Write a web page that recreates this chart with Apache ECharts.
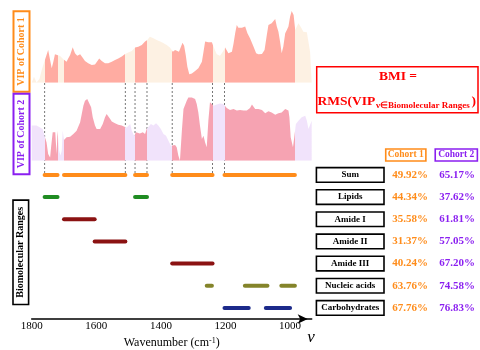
<!DOCTYPE html>
<html>
<head>
<meta charset="utf-8">
<script src="https://cdn.jsdelivr.net/npm/echarts@6.0.0/dist/echarts.min.js"></script>
<style>
html, body { margin: 0; padding: 0; background: #fff; }
#chart { width: 480px; height: 350px; }
</style>
</head>
<body>
<div id="chart"></div>
<script>
// VIP spectra (wavenumber in cm-1, VIP)
var wn1 = [1800,1793,1785,1776,1769,1761,1754,1749,1743,1738,1733,1728,1723,1712,1702,1692,1687,1681,1673,1666,1659,1650,1642,1635,1625,1614,1604,1591,1583,1573,1563,1552,1542,1532,1521,1512,1501,1490,1480,1470,1459,1449,1442,1434,1423,1413,1397,1382,1372,1363,1356,1351,1344,1333,1328,1323,1318,1312,1304,1294,1284,1273,1268,1263,1253,1242,1237,1227,1217,1208,1201,1196,1191,1186,1180,1175,1170,1165,1160,1155,1149,1139,1132,1124,1113,1105,1098,1087,1079,1072,1067,1062,1057,1052,1046,1041,1036,1031,1026,1021,1015,1010,1005,1000,995,989,984,979,974,969,964,959,948,943,938,933];
var vip1 = [0,0.2,0.01,0.12,0.42,0.70,0.92,1.09,0.76,0.48,0.70,0.95,0.92,0.89,0.78,0.70,0.81,0.92,1.18,0.98,0.90,0.95,0.83,0.72,0.65,0.59,0.61,0.81,0.72,0.65,0.65,0.70,0.76,0.81,0.87,0.95,1.01,1.06,1.17,1.20,1.26,1.37,1.42,1.53,1.48,1.42,1.35,1.26,1.17,1.03,1.09,1.12,1.03,1.33,1.23,0.92,0.53,0.28,0.31,0.39,0.48,0.70,1.03,1.37,1.35,1.35,1.20,0.95,0.90,1.03,1.17,1.18,0.98,0.92,1.03,1.31,1.65,1.92,1.83,1.79,1.83,1.87,1.65,1.48,1.20,0.98,0.95,0.96,1.09,1.59,1.92,1.90,1.98,1.98,2.12,1.87,1.70,1.37,0.98,1.20,1.65,1.76,1.87,2.20,2.39,2.26,1.76,1.87,1.98,2.03,1.81,1.70,1.68,1.65,1.03,0.98];
var wn2 = [1800,1795,1785,1774,1766,1759,1754,1749,1743,1740,1735,1731,1727,1723,1720,1715,1711,1707,1704,1700,1692,1681,1671,1661,1650,1645,1640,1635,1628,1622,1616,1611,1604,1599,1588,1580,1573,1568,1563,1557,1552,1542,1532,1521,1513,1506,1501,1495,1490,1483,1477,1473,1465,1456,1449,1444,1439,1431,1423,1415,1408,1400,1392,1384,1377,1369,1363,1356,1351,1346,1341,1335,1330,1325,1320,1315,1310,1304,1299,1294,1289,1284,1279,1273,1268,1263,1258,1253,1248,1242,1237,1227,1217,1206,1201,1196,1186,1175,1165,1160,1155,1144,1134,1124,1118,1113,1108,1098,1087,1077,1067,1057,1046,1036,1026,1015,1010,1005,1002,998,991,987,982,974,964,953,948,943,938,933];
var vip2 = [1.17,1.13,1.17,1.11,1.06,0.78,0.61,0.22,0.11,0.45,0.95,0.89,0.95,0.22,1.00,0.33,0.17,0.33,1.00,0.69,0.78,0.80,0.89,1.00,1.28,1.56,1.83,2.00,2.06,2.00,1.78,1.45,1.17,1.06,1.06,1.22,1.45,1.56,1.50,1.39,1.31,1.25,1.20,1.17,1.13,1.11,1.17,1.22,1.00,0.83,0.95,1.00,0.91,0.95,0.89,1.06,1.11,1.22,1.17,1.25,1.17,1.06,0.89,0.83,0.67,0.50,0.45,0.52,0.45,0.17,0.0,1.00,1.72,1.78,2.00,2.11,2.06,2.11,2.17,2.06,1.89,1.61,1.17,0.72,0.83,0.61,0.45,1.33,1.95,2.00,1.83,1.87,1.91,1.89,1.83,1.76,1.69,1.72,1.67,1.72,1.69,1.67,1.67,1.76,1.87,1.80,1.72,1.72,1.69,1.58,1.65,1.61,1.53,1.58,1.61,1.72,1.78,1.67,1.45,0.78,0.45,0.78,1.22,1.33,1.45,1.50,1.33,1.06,1.00,1.33];

// biomolecular ranges [from, to] (cm-1)
var rows = ['Sum', 'Lipids', 'Amide I', 'Amide II', 'Amide III', 'Nucleic acids', 'Carbohydrates'];
var lipids = [[1760, 1720], [1480, 1443]];
var amide1 = [[1700, 1605]];
var amide2 = [[1605, 1510]];
var amide3 = [[1365, 1240]];
var nucleic = [[1258, 1242], [1140, 1070], [1027, 985]];
var carbs = [[1203, 1128], [1075, 1000]];
var dashWn = [1760, 1510, 1480, 1443, 1365, 1240, 1203];

// BMI values (%)
var bmi1 = [49.92, 44.34, 35.58, 31.37, 40.24, 63.76, 67.76];
var bmi2 = [65.17, 37.62, 61.81, 57.05, 67.20, 74.58, 76.83];
var xTicks = [1800, 1600, 1400, 1200, 1000];

var serif = '"Liberation Serif", "Times New Roman", serif';
var ORANGE = '#ff8c1a';
var PURPLE = '#8a1ff0';
var rowColors = [ORANGE, '#1f8c22', '#8b1212', '#8b1212', '#8b1212', '#84842a', '#1c2a8a'];

// the Sum row is the union of all the other ranges
function union(list) {
    var s = list.map(function (r) { return [r[0], r[1]]; }).sort(function (a, b) { return b[0] - a[0]; });
    var out = [];
    s.forEach(function (r) {
        var last = out[out.length - 1];
        if (last && r[0] >= last[1]) last[1] = Math.min(last[1], r[1]);
        else out.push(r);
    });
    return out;
}
var sumRanges = union([].concat(lipids, amide1, amide2, amide3, nucleic, carbs));
var rowRanges = [sumRanges, lipids, amide1, amide2, amide3, nucleic, carbs];

var barData = [];
rowRanges.forEach(function (list, i) {
    list.forEach(function (r) { barData.push([r[0], r[1], i]); });
});

function pairs(xs, ys) {
    return xs.map(function (x, i) { return [x, ys[i]]; });
}

function pieces(color) {
    return sumRanges.map(function (r) { return { gte: r[1], lte: r[0], color: color }; });
}

var myChart = echarts.init(document.getElementById('chart'));

var gridX = { left: 31.7, right: 168.3 };

var option = {
    animation: false,
    backgroundColor: '#fff',
    grid: [
        { left: gridX.left, right: gridX.right, top: 7.7, height: 75 },
        { left: gridX.left, right: gridX.right, top: 85.7, height: 75 },
        { left: gridX.left, right: gridX.right, top: 163.8, height: 156.4 }
    ],
    xAxis: [
        { gridIndex: 0, type: 'value', min: 933, max: 1800, inverse: true, show: false },
        { gridIndex: 1, type: 'value', min: 933, max: 1800, inverse: true, show: false },
        {
            gridIndex: 2, type: 'value', min: 933, max: 1800, inverse: true,
            axisLine: { show: true, lineStyle: { color: '#000', width: 1.5 }, symbol: ['none', 'arrow'], symbolSize: [7, 10], symbolOffset: [0, -4] },
            axisTick: { show: false },
            splitLine: { show: false },
            axisLabel: { customValues: xTicks, margin: 2, color: '#000', fontFamily: serif, fontSize: 11,
                formatter: function (v) { return String(v); } },
            name: 'Wavenumber (cm{sup|-1})',
            nameLocation: 'middle',
            nameGap: 18,
            nameTextStyle: {
                color: '#000', fontFamily: serif, fontSize: 12,
                rich: { sup: { fontSize: 8, fontFamily: serif, color: '#000', verticalAlign: 'top' } }
            }
        }
    ],
    yAxis: [
        { gridIndex: 0, type: 'value', min: 0, max: 2.5, show: false },
        { gridIndex: 1, type: 'value', min: 0, max: 2.5, show: false },
        {
            gridIndex: 2, type: 'category', data: rows, inverse: true, position: 'right',
            axisLine: { show: false }, axisTick: { show: false }, splitLine: { show: false },
            axisLabel: {
                margin: 5.5,
                formatter: function (v, i) {
                    return '{box|' + v + '}{c1|' + bmi1[i].toFixed(2) + '%}{c2|' + bmi2[i].toFixed(2) + '%}';
                },
                rich: {
                    box: { width: 62, align: 'center', padding: [2, 2, 2, 2], lineHeight: 10, borderColor: '#000', borderWidth: 1.6,
                        backgroundColor: '#fff', fontSize: 9, fontWeight: 'bold', fontFamily: serif, color: '#000' },
                    c1: { width: 54, align: 'center', fontSize: 11, fontWeight: 'bold', fontFamily: serif, color: ORANGE },
                    c2: { width: 40, align: 'center', fontSize: 11, fontWeight: 'bold', fontFamily: serif, color: PURPLE }
                }
            }
        }
    ],
    visualMap: [
        { type: 'piecewise', show: false, seriesIndex: 0, dimension: 0, pieces: pieces('#ffaca2'), outOfRange: { color: '#fdf1e3' } },
        { type: 'piecewise', show: false, seriesIndex: 1, dimension: 0, pieces: pieces('#f6a3b2'), outOfRange: { color: '#f1e3fb' } }
    ],
    series: [
        {
            type: 'line', xAxisIndex: 0, yAxisIndex: 0, data: pairs(wn1, vip1),
            symbol: 'none', lineStyle: { width: 0, opacity: 0 }, areaStyle: { opacity: 1 }, silent: true
        },
        {
            type: 'line', xAxisIndex: 1, yAxisIndex: 1, data: pairs(wn2, vip2),
            symbol: 'none', lineStyle: { width: 0, opacity: 0 }, areaStyle: { opacity: 1 }, silent: true
        },
        {
            // dashed guides from the top panel baseline down to the Sum bar
            type: 'custom', xAxisIndex: 1, yAxisIndex: 1, clip: false, silent: true,
            data: dashWn.map(function (w) { return [w]; }),
            renderItem: function (params, api) {
                var a = api.coord([api.value(0), 2.59]);
                var b = api.coord([api.value(0), -0.48]);
                return {
                    type: 'line',
                    shape: { x1: a[0], y1: a[1], x2: b[0], y2: b[1] },
                    style: { stroke: '#555', lineWidth: 0.8, lineDash: [2, 2] }
                };
            }
        },
        {
            type: 'custom', xAxisIndex: 2, yAxisIndex: 2, clip: false, silent: true,
            encode: { x: [0, 1], y: 2 },
            data: barData,
            renderItem: function (params, api) {
                var a = api.coord([api.value(0), api.value(2)]);
                var b = api.coord([api.value(1), api.value(2)]);
                return {
                    type: 'line',
                    shape: { x1: a[0], y1: a[1], x2: b[0], y2: b[1] },
                    style: { stroke: rowColors[api.value(2)], lineWidth: 4, lineCap: 'round' }
                };
            }
        }
    ],
    graphic: [
        { type: 'text', x: 21.5, y: 51.5, rotation: Math.PI / 2,
          style: { text: 'VIP of Cohort 1', font: 'bold 10px ' + serif, fill: ORANGE, align: 'center', verticalAlign: 'middle',
                   borderColor: ORANGE, borderWidth: 2, padding: [2, 5], backgroundColor: '#fff' } },
        { type: 'text', x: 21.5, y: 134, rotation: Math.PI / 2,
          style: { text: 'VIP of Cohort 2', font: 'bold 10px ' + serif, fill: PURPLE, align: 'center', verticalAlign: 'middle',
                   borderColor: PURPLE, borderWidth: 2, padding: [2, 5], backgroundColor: '#fff' } },
        { type: 'text', x: 20.8, y: 252.3, rotation: Math.PI / 2,
          style: { text: 'Biomolecular Ranges', font: 'bold 10px ' + serif, fill: '#000', align: 'center', verticalAlign: 'middle',
                   borderColor: '#000', borderWidth: 1.6, padding: [2, 6], backgroundColor: '#fff' } },
        { type: 'rect', shape: { x: 316.7, y: 66.7, width: 161.3, height: 46 },
          style: { fill: '#fff', stroke: '#ff0000', lineWidth: 1.5 } },
        { type: 'text', x: 398, y: 77,
          style: { text: 'BMI =', font: 'bold 13.5px ' + serif, fill: '#ff0000', align: 'center', verticalAlign: 'middle' } },
        { type: 'text', x: 317.5, y: 101.7,
          style: { text: 'RMS(VIP', font: 'bold 13.5px ' + serif, fill: '#ff0000', align: 'left', verticalAlign: 'middle' } },
        { type: 'text', x: 376, y: 105.5,
          style: { text: 'ν∈Biomolecular Ranges', font: 'bold 9px ' + serif, fill: '#ff0000', align: 'left', verticalAlign: 'middle' } },
        { type: 'text', x: 471.5, y: 101.7,
          style: { text: ')', font: 'bold 13.5px ' + serif, fill: '#ff0000', align: 'left', verticalAlign: 'middle' } },
        { type: 'text', x: 405.8, y: 155,
          style: { text: 'Cohort 1', font: 'bold 9.5px ' + serif, fill: ORANGE, align: 'center', verticalAlign: 'middle',
                   borderColor: ORANGE, borderWidth: 1.6, padding: [1, 2, 1, 2] } },
        { type: 'text', x: 456.3, y: 155,
          style: { text: 'Cohort 2', font: 'bold 9.5px ' + serif, fill: PURPLE, align: 'center', verticalAlign: 'middle',
                   borderColor: PURPLE, borderWidth: 1.6, padding: [1, 3, 1, 3] } },
        { type: 'text', x: 311, y: 338,
          style: { text: 'ν', font: 'italic 17px ' + serif, fill: '#000', align: 'center', verticalAlign: 'middle' } }
    ]
};

myChart.setOption(option);
</script>
</body>
</html>
